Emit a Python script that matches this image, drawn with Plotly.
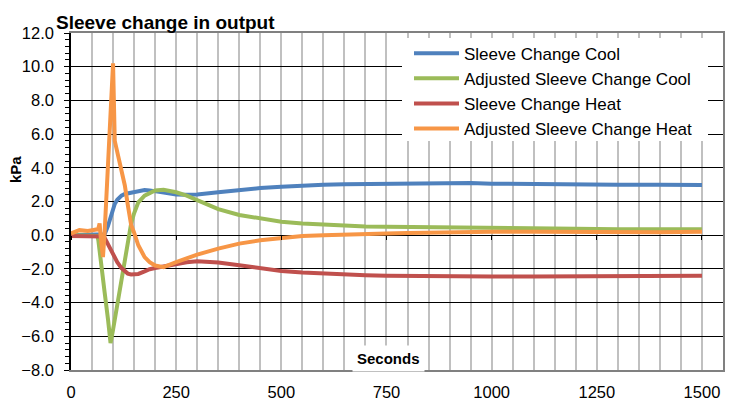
import plotly.graph_objects as go

# Time (seconds)
t = [0, 20, 40, 60, 63, 65, 68, 72, 76, 80, 88, 94, 100, 104, 110, 120, 128, 135, 143, 150,
     160, 175, 187, 200, 220, 250, 275, 300, 350, 400, 450, 500, 550, 600, 650, 700, 750,
     800, 850, 900, 950, 1000, 1100, 1200, 1300, 1400, 1500]

sleeve_cool = [0.0, 0.0, 0.0, 0.0, 0.0, 0.0, 0.0, 0.0, 0.0, 0.05, 0.55, 1.1, 1.6, 1.85, 2.1, 2.35, 2.45, 2.48, 2.52, 2.56,
               2.62, 2.68, 2.66, 2.6, 2.5, 2.42, 2.4, 2.42, 2.55, 2.7, 2.8, 2.88, 2.95, 3.0, 3.03, 3.05, 3.07,
               3.1, 3.12, 3.13, 3.1, 3.06, 3.03, 3.0, 3.0, 3.0, 2.98]

adj_sleeve_cool = [0.0, 0.0, 0.0, 0.0, -0.05, -0.3, -1.0, -1.8, -2.6, -3.4, -5.0, -6.4, -5.6, -5.0, -4.1, -2.7, -1.6, -0.5, 0.7, 1.3,
                   1.95, 2.35, 2.5, 2.65, 2.7, 2.55, 2.35, 2.1, 1.55, 1.2, 1.0, 0.8, 0.7, 0.62, 0.56, 0.52, 0.5,
                   0.48, 0.46, 0.45, 0.43, 0.42, 0.4, 0.38, 0.36, 0.35, 0.35]

sleeve_heat = [-0.05, -0.05, -0.05, -0.05, -0.05, -0.05, -0.05, -0.05, -0.08, -0.15, -0.55, -0.85, -1.05, -1.35, -1.6, -1.95, -2.15, -2.28, -2.33, -2.34,
               -2.3, -2.15, -2.02, -1.95, -1.85, -1.72, -1.6, -1.55, -1.62, -1.78, -1.95, -2.12, -2.22, -2.28, -2.33, -2.37, -2.4,
               -2.42, -2.43, -2.44, -2.45, -2.45, -2.45, -2.44, -2.43, -2.42, -2.4]

adj_sleeve_heat = [0.1, 0.3, 0.25, 0.3, 0.35, 0.4, 0.7, -0.5, -1.3, 0.2, 4.2, 7.2, 10.2, 5.6, 4.9, 3.9, 2.95, 1.8, 0.6, 0.15,
                   -0.6, -1.3, -1.6, -1.8, -1.9, -1.6, -1.35, -1.15, -0.8, -0.5, -0.3, -0.15, -0.05, 0.0, 0.05, 0.08, 0.1,
                   0.13, 0.15, 0.18, 0.2, 0.2, 0.2, 0.18, 0.18, 0.18, 0.2]

x_ticks = [0, 250, 500, 750, 1000, 1250, 1500]

series = [
    ("Sleeve Change Cool", sleeve_cool, "#4F81BD"),
    ("Adjusted Sleeve Change Cool", adj_sleeve_cool, "#9BBB59"),
    ("Sleeve Change Heat", sleeve_heat, "#C0504D"),
    ("Adjusted Sleeve Change Heat", adj_sleeve_heat, "#F79646"),
]

W, H = 739, 403
L, R, T, B = 71, 16, 33, 33
PW, PH = W - L - R, H - T - B
XMAX, YMIN, YMAX = 1550, -8, 12

def px_x(p):
    return (p - L) / PW

def px_y(p):
    return (H - B - p) / PH

def dx(p):  # pixel -> x data (for box placement)
    return (p - L) / PW * XMAX

def dy(p):
    return YMIN + (H - B - p) / PH * (YMAX - YMIN)

fig = go.Figure()
for name, vals, col in series:
    fig.add_trace(go.Scatter(x=t, y=vals, name=name, mode="lines",
                             line=dict(color=col, width=4)))

font = "Liberation Sans, Arial, sans-serif"

fig.update_layout(
    width=W, height=H,
    margin=dict(l=L, r=R, t=T, b=B, pad=0, autoexpand=False),
    paper_bgcolor="white", plot_bgcolor="white",
    font=dict(family=font, size=16.5, color="black"),
    showlegend=True,
    legend=dict(x=px_x(409), y=px_y(35.7), xanchor="left", yanchor="top",
                bgcolor="rgba(0,0,0,0)", font=dict(size=17, color="black"),
                borderwidth=0, itemwidth=45),
    title=dict(text="<b>Sleeve change in output</b>", x=56 / W, xanchor="left",
               y=1 - 22 / H, yanchor="middle", font=dict(size=19, color="black"), automargin=False),
    xaxis=dict(range=[0, XMAX], tickvals=x_ticks, showgrid=True, gridcolor="#c0c0c0", gridwidth=1.5,
               minor=dict(dtick=50, tick0=0, showgrid=True, gridcolor="#c0c0c0", gridwidth=1.5),
               showline=True, linecolor="#808080", linewidth=2, mirror=True,
               ticks="", ticklabelstandoff=6, zeroline=False, automargin=False),
    xaxis2=dict(range=[0, XMAX], overlaying="x", anchor="free", position=0.4, side="bottom",
                tickvals=x_ticks, ticks="outside", ticklen=4, tickcolor="black",
                showticklabels=False, showgrid=False, showline=False, zeroline=False, automargin=False),
    yaxis=dict(range=[YMIN, YMAX], dtick=2, tickformat=".1f", showgrid=True, gridcolor="black", gridwidth=1,
               showline=True, linecolor="black", linewidth=1.5, ticks="outside", ticklen=5,
               tickcolor="black", tickwidth=1, ticklabelstandoff=7,
               minor=dict(dtick=0.4, ticks="outside", ticklen=4, tickcolor="black", showgrid=False),
               zeroline=False, automargin=False),
    yaxis2=dict(range=[YMIN, YMAX], overlaying="y", side="right", showline=True, linecolor="#808080",
                linewidth=2, showgrid=False, showticklabels=False, ticks="", zeroline=False, automargin=False),
    shapes=[dict(type="rect", xref="x", yref="y", x0=dx(402), x1=dx(708),
                 y0=dy(141), y1=dy(38), fillcolor="white", line=dict(width=0), layer="between")],
    annotations=[
        dict(text="<b>Seconds</b>", xref="paper", yref="paper", x=px_x(388.7), y=px_y(358),
             xanchor="center", yanchor="middle", showarrow=False, bgcolor="white", borderpad=4,
             font=dict(size=15, color="black")),
        dict(text="<b>kPa</b>", xref="paper", yref="paper", x=px_x(15), y=px_y(170),
             xanchor="center", yanchor="middle", showarrow=False, textangle=-90,
             font=dict(size=15, color="black")),
    ],
)

# invisible trace to activate the secondary axes
fig.add_trace(go.Scatter(x=[0], y=[0], xaxis="x2", yaxis="y2", mode="markers",
                         marker=dict(opacity=0), showlegend=False, hoverinfo="skip"))

fig.write_html("out.html", config={"displayModeBar": False},
               post_script="document.body.style.margin='0px';document.body.style.padding='0px';")
